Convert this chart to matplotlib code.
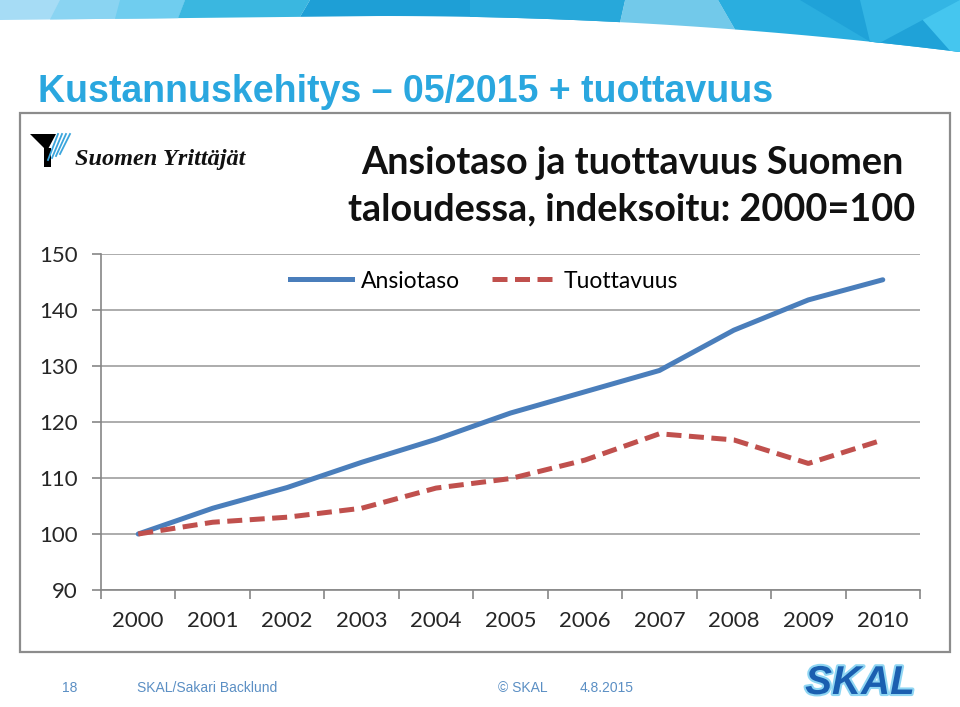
import numpy as np
import matplotlib
matplotlib.use("Agg")
from matplotlib import pyplot as plt
from matplotlib.patches import Polygon, Rectangle
from matplotlib.lines import Line2D
import matplotlib.patheffects as pe

years = ['2000', '2001', '2002', '2003', '2004', '2005',
         '2006', '2007', '2008', '2009', '2010']
ansiotaso = [100, 104.6, 108.3, 112.8, 116.9, 121.6, 125.4, 129.2, 136.4, 141.8, 145.4]
tuottavuus = [100, 102.1, 103.0, 104.6, 108.2, 109.9, 113.2, 117.9, 116.8, 112.6, 116.8]
yticks = [90, 100, 110, 120, 130, 140, 150]

W, H = 960, 707
fig = plt.figure(figsize=(9.6, 7.07), dpi=100)
fig.patch.set_facecolor('white')

# background layer in pixel coords
bg = fig.add_axes([0, 0, 1, 1])
bg.set_xlim(0, W)
bg.set_ylim(H, 0)
bg.axis('off')


def edge(x):
    # curved lower edge of the top banner
    return 16 + 36 * ((x - 380) / 580) ** 2 * (x > 380) + 4 * ((380 - x) / 380) * (x <= 380)


def band(x0t, x1t, x0b, x1b, c):
    xs_b = np.linspace(x1b, x0b, 30)
    pts = [(x0t, 0), (x1t, 0)] + [(x, edge(x)) for x in xs_b]
    bg.add_patch(Polygon(pts, closed=True, facecolor=c, edgecolor='none', zorder=1))


band(0, 185, 0, 178, '#a6dcf5')
band(60, 185, 50, 178, '#8ad4f2')
band(120, 185, 115, 178, '#6fcdef')
band(185, 310, 178, 300, '#3ab7e0')
band(310, 625, 300, 620, '#1e9fd6')
band(470, 625, 470, 620, '#27a8da')
band(625, 718, 620, 735, '#72c9ea')
band(718, 960, 735, 960, '#2aaedf')
band(800, 960, 870, 960, '#1fa2d8')
band(905, 960, 950, 960, '#45c6ef')
band(860, 960, 870, 880, '#33b5e4')

# slide title
bg.text(38, 92, 'Kustannuskehitys \u2013 05/2015 + tuottavuus', fontsize=27,
        color='#2aa7df', fontweight='bold', va='center', ha='left',
        family=['Liberation Sans', 'DejaVu Sans'])

# picture frame
bg.add_patch(Rectangle((20, 113), 930, 539, facecolor='white',
                       edgecolor='#8c8c8c', lw=1.6, zorder=2))

# Suomen Yrittajat logo
bg.add_patch(Polygon([(30, 134), (56, 134), (47, 151)], closed=True,
                     facecolor='black', edgecolor='none', zorder=3))
bg.add_patch(Polygon([(44, 148), (51, 148), (51, 167), (44, 167)], closed=True,
                     facecolor='black', edgecolor='none', zorder=3))
for k in range(4):
    bg.plot([58 + 4 * k, 48 + 4 * k], [134, 160 - 2 * k], color='#3aa5dc', lw=1.3, zorder=3)
bg.text(75, 160, 'Suomen Yrittäjät', fontsize=17.5, fontweight='bold', style='italic',
        family='Liberation Serif', va='center', ha='left', color='#111111', zorder=3)

# chart title
bg.text(632, 186, 'Ansiotaso ja tuottavuus Suomen\ntaloudessa, indeksoitu: 2000=100',
        fontsize=27.2, fontweight='bold', family='Lato', color='#111111',
        ha='center', va='center', linespacing=1.45, zorder=3)

# footer
fkw = dict(fontsize=10, color='#5b8fc4', va='center', ha='left',
           family=['Liberation Sans'])
bg.text(62, 688, '18', **fkw)
bg.text(137, 688, 'SKAL/Sakari Backlund', **fkw)
bg.text(498, 688, '\u00a9 SKAL', **fkw)
bg.text(580, 688, '4.8.2015', **fkw)
bg.text(860, 683, 'SKAL', fontsize=29, fontweight='bold', style='italic', color='#1a5fb0',
        ha='center', va='center', family=['Liberation Sans'],
        path_effects=[pe.withStroke(linewidth=3, foreground='#8fd6f3')], zorder=3)

# chart
ax = fig.add_axes([101 / W, 1 - 590 / H, (920 - 101) / W, (590 - 254) / H])
ax.patch.set_alpha(0)
x = np.arange(len(years))
ax.plot(x, ansiotaso, color='#4a7ebb', lw=3.6, solid_capstyle='round', zorder=3)
ax.plot(x, tuottavuus, color='#c0504d', lw=3.6, dashes=(3, 1.5), zorder=3)

ax.set_xlim(-0.5, len(years) - 0.5)
ax.set_ylim(90, 150)
ax.set_yticks(yticks)
ax.set_yticklabels([str(v) for v in yticks])
ax.set_xticks(x)
ax.set_xticklabels(years)
ax.set_xticks(np.arange(-0.5, len(years), 1.0), minor=True)
ax.yaxis.grid(True, color='#a6a6a6', lw=1.3)
ax.set_axisbelow(True)
for s in ['top', 'right']:
    ax.spines[s].set_visible(False)
for s in ['left', 'bottom']:
    ax.spines[s].set_color('#868686')
    ax.spines[s].set_linewidth(1.2)
ax.tick_params(axis='y', length=6.5, color='#868686', width=1.2, pad=10, labelsize=16,
               labelcolor='#262626')
ax.tick_params(axis='x', which='major', length=0, pad=15, labelsize=16, labelcolor='#262626')
ax.tick_params(axis='x', which='minor', length=6.5, color='#868686', width=1.2)
for lab in ax.get_xticklabels() + ax.get_yticklabels():
    lab.set_family('Lato')

handles = [Line2D([], [], color='#4a7ebb', lw=3.6),
           Line2D([], [], color='#c0504d', lw=3.6, dashes=(3, 1.5))]
ax.legend(handles, ['Ansiotaso', 'Tuottavuus'], ncol=2, frameon=False,
          loc='center', bbox_to_anchor=(484 / W, 1 - 281 / H),
          bbox_transform=fig.transFigure, prop={'family': 'Lato', 'size': 16.5},
          handlelength=2.7, handletextpad=0.4, columnspacing=1.4)

fig.savefig('out.png', dpi=100)
